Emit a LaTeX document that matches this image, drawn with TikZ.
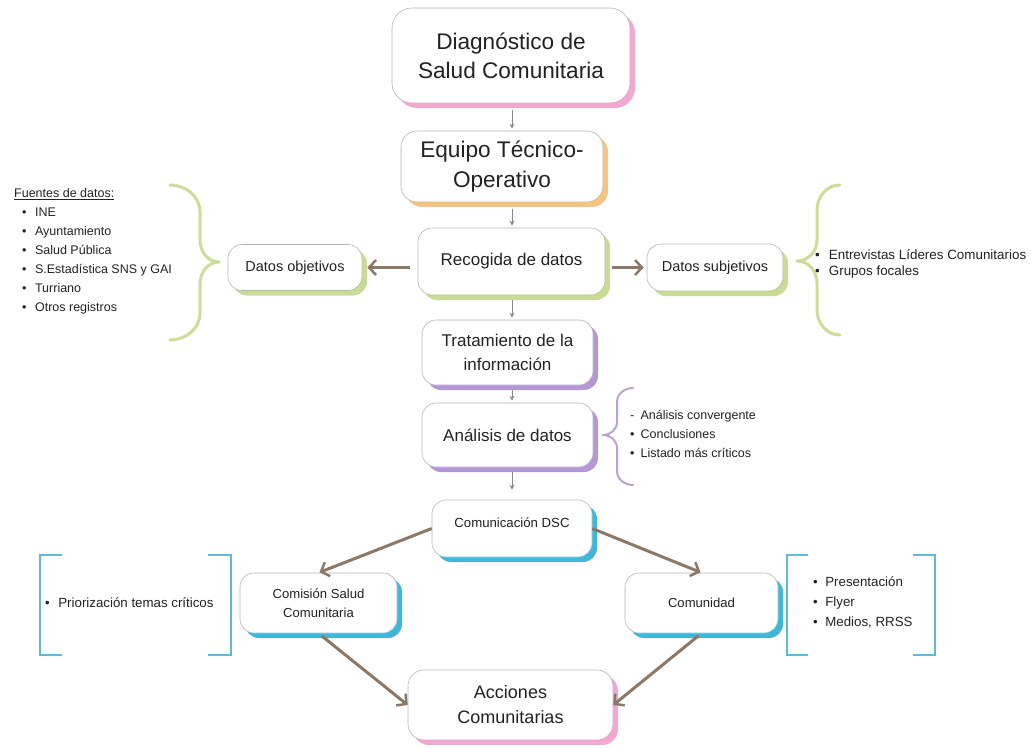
\documentclass[tikz,border=0pt]{standalone}
\usepackage{fontspec}
\setmainfont{Liberation Sans}
\usetikzlibrary{shadows,arrows.meta,calc}
\definecolor{pinkS}{HTML}{F4A7D0}
\definecolor{orangeS}{HTML}{F7C47E}
\definecolor{greenS}{HTML}{CADB93}
\definecolor{purpleS}{HTML}{B596D6}
\definecolor{cyanS}{HTML}{3DB7DA}
\definecolor{boxborder}{HTML}{B5B5B5}
\definecolor{arrowc}{HTML}{8C7866}
\definecolor{thinc}{HTML}{8E8680}
\definecolor{braceG}{HTML}{CCDD99}
\definecolor{braceP}{HTML}{B9A3CF}
\definecolor{bracketC}{HTML}{62B9D3}
\definecolor{textc}{HTML}{222222}
\begin{document}
\begin{tikzpicture}[x=1pt,y=-1pt,
  box/.style={draw=boxborder, line width=0.6pt, fill=white, rounded corners=14pt,
    inner sep=0pt, align=center, text=textc},
  shadowc/.style={drop shadow={shadow xshift=5pt, shadow yshift=-5pt, fill=#1, opacity=1}},
  thinarr/.style={draw=thinc, line width=1pt, -{Stealth[length=5pt,width=5pt]}},
  thickarr/.style={draw=arrowc, line width=#1, -{Straight Barb[length=7pt,width=15pt,line width=2.5pt]}},
  thickarr/.default=3.5pt,
  listtext/.style={inner sep=0pt, text=textc, align=left},
  braceline/.style={line width=#1, line cap=round, line join=round},
]
\useasboundingbox (0,0) rectangle (1031,748);

% main boxes
\node[box, shadowc=pinkS, rounded corners=20pt, minimum width=238pt, minimum height=95pt,
  font=\fontsize{22.6}{29}\selectfont] (diag) at (511,55.5) {Diagnóstico de\\Salud Comunitaria};
\node[box, shadowc=orangeS, rounded corners=16pt, minimum width=202pt, minimum height=71pt,
  font=\fontsize{22.6}{30}\selectfont] (equipo) at (502,166.5) {Equipo Técnico-\\Operativo};
\node[box, shadowc=greenS, minimum width=187pt, minimum height=67pt,
  font=\fontsize{17}{20}\selectfont] (recogida) at (511.5,261.5) {Recogida de datos};
\node[box, shadowc=greenS, minimum width=134pt, minimum height=46pt,
  font=\fontsize{14.5}{17}\selectfont] (objetivos) at (295,267.5) {Datos objetivos};
\node[box, shadowc=greenS, minimum width=136pt, minimum height=47pt,
  font=\fontsize{14.5}{17}\selectfont] (subjetivos) at (715,267.5) {Datos subjetivos};
\node[box, shadowc=purpleS, minimum width=171pt, minimum height=65pt,
  font=\fontsize{17}{23.5}\selectfont] (tratamiento) at (507.5,352.5) {Tratamiento de la\\información};
\node[box, shadowc=purpleS, minimum width=171pt, minimum height=64pt,
  font=\fontsize{17}{20}\selectfont] (analisis) at (507.5,435) {Análisis de datos};
\node[box, shadowc=cyanS, minimum width=160pt, minimum height=57pt, text height=9pt, text depth=12pt,
  font=\fontsize{13.2}{16}\selectfont] (comunicacion) at (512,528.5) {Comunicación DSC};
\node[box, shadowc=cyanS, minimum width=157pt, minimum height=60pt,
  font=\fontsize{13.1}{18.5}\selectfont] (comision) at (318.5,603) {Comisión Salud\\Comunitaria};
\node[box, shadowc=cyanS, minimum width=153pt, minimum height=60pt,
  font=\fontsize{13.1}{16}\selectfont] (comunidad) at (701.5,603) {Comunidad};
\node[box, shadowc=pinkS, rounded corners=16pt, minimum width=205pt, minimum height=70pt,
  font=\fontsize{18}{25}\selectfont] (acciones) at (510.5,705) {Acciones\\Comunitarias};

% vertical thin arrows
\coordinate (ax) at (512,0);
\draw[thinarr, shorten <=7pt, shorten >=2pt] (diag.south -| ax) -- (equipo.north -| ax);
\draw[thinarr, shorten <=7pt, shorten >=2pt] (equipo.south -| ax) -- (recogida.north -| ax);
\draw[thinarr, shorten <=5pt, shorten >=2pt] (recogida.south -| ax) -- (tratamiento.north -| ax);
\draw[thinarr, shorten <=5pt, shorten >=2pt] (tratamiento.south -| ax) -- (analisis.north -| ax);
\draw[thinarr, shorten <=5pt, shorten >=10pt] (analisis.south -| ax) -- (comunicacion.north -| ax);

% thick arrows
\draw[thickarr, shorten <=8pt, shorten >=5pt] (recogida.west |- objetivos.east) -- (objetivos.east);
\draw[thickarr, shorten <=7pt, shorten >=3pt] (recogida.east |- subjetivos.west) -- (subjetivos.west);
\draw[thickarr=3pt, shorten >=1pt] (comunicacion.west) -- (comision.north);
\draw[thickarr=3pt, shorten >=1pt] (comunicacion.east) -- (comunidad.north);
\draw[thickarr=3pt, shorten <=4pt] (comision.south) -- (acciones.west);
\draw[thickarr=3pt, shorten <=4pt] (comunidad.south) -- (acciones.east);

% braces
\draw[braceline=3pt, draw=braceG] (170,185) to[out=0,in=90] (200,212) -- (200,240)
  to[out=-90,in=180] (219,262) to[out=180,in=90] (200,284) -- (200,313) to[out=-90,in=0] (170,340);
\draw[braceline=3pt, draw=braceG] (840,185) to[out=180,in=90] (817,210) -- (817,240)
  to[out=-90,in=0] (797,261) to[out=0,in=90] (817,283) -- (817,310) to[out=-90,in=180] (840,335);
\draw[braceline=2pt, draw=braceP] (633,388) to[out=180,in=90] (617,402) -- (617,422)
  to[out=-90,in=0] (603,435) to[out=0,in=90] (617,448) -- (617,471) to[out=-90,in=180] (633,485);

% brackets
\draw[line width=2.5pt, draw=bracketC] (62,555) -- (40,555) -- (40,655) -- (62,655);
\draw[line width=2.5pt, draw=bracketC] (208,555) -- (231,555) -- (231,655) -- (208,655);
\draw[line width=2.5pt, draw=bracketC] (808,555) -- (787,555) -- (787,655) -- (808,655);
\draw[line width=2.5pt, draw=bracketC] (913,555) -- (935,555) -- (935,655) -- (913,655);

% lists
\node[listtext, anchor=north west, font=\fontsize{12.5}{19}\selectfont] (fuentes) at (14,183.7) {%
  \begin{tabular}{@{\hspace{8pt}}l@{\hspace{8.5pt}}l@{}}
  \multicolumn{2}{@{}l@{}}{\underline{Fuentes de datos:}}\\
  •&INE\\
  •&Ayuntamiento\\
  •&Salud Pública\\
  •&S.Estadística SNS y GAI\\
  •&Turriano\\
  •&Otros registros
  \end{tabular}};
\node[listtext, anchor=north west, font=\fontsize{13.4}{16}\selectfont] (subjlist) at (815,248.2) {%
  \begin{tabular}{@{}l@{\hspace{9pt}}l@{}}
  •&Entrevistas Líderes Comunitarios\\
  •&Grupos focales
  \end{tabular}};
\node[listtext, anchor=north west, font=\fontsize{12.5}{19}\selectfont] (analist) at (630,406.2) {%
  \begin{tabular}{@{}l@{\hspace{6pt}}l@{}}
  -&Análisis convergente\\
  •&Conclusiones\\
  •&Listado más críticos
  \end{tabular}};
\node[listtext, anchor=west, font=\fontsize{13.3}{16}\selectfont] (priolist) at (45,603) {•\hspace{8.5pt}Priorización temas críticos};
\node[listtext, anchor=north west, font=\fontsize{13.3}{20}\selectfont] (comlist) at (813,572.6) {%
  \begin{tabular}{@{}l@{\hspace{7.5pt}}l@{}}
  •&Presentación\\
  •&Flyer\\
  •&Medios, RRSS
  \end{tabular}};
\end{tikzpicture}
\end{document}
